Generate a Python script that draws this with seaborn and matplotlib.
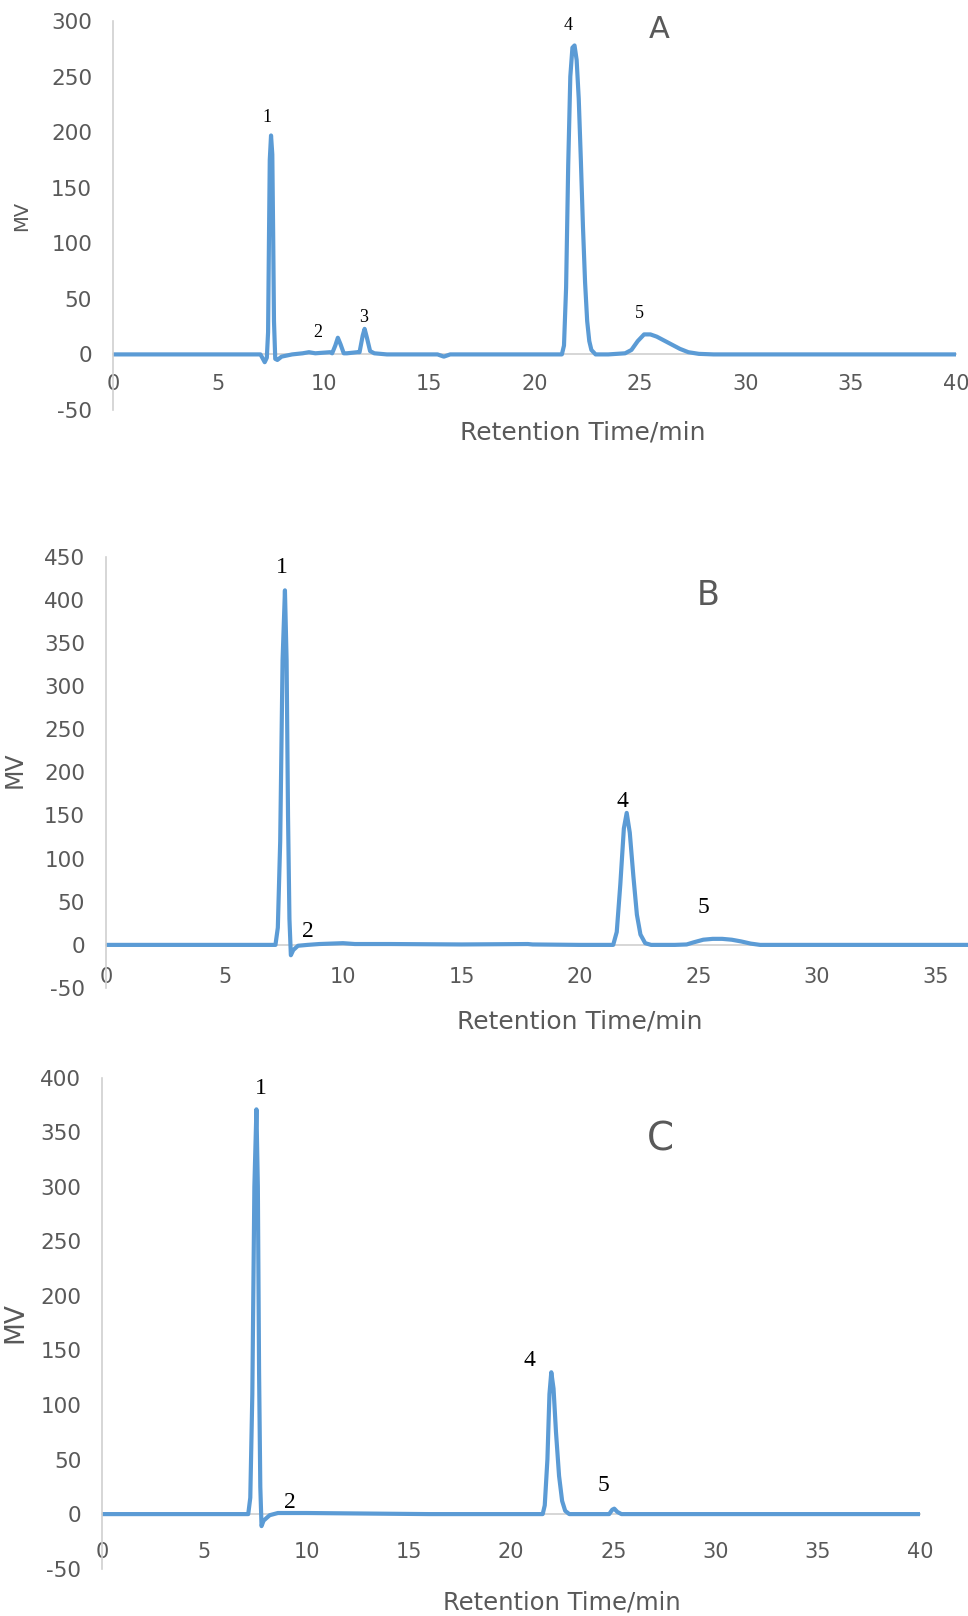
import matplotlib
matplotlib.use("Agg")
import matplotlib.pyplot as plt
import seaborn as sns

# ---------------------------------------------------------
# DADOS (lidos do cromatograma)
# ---------------------------------------------------------
# Painel A
time_a = [0, 7.0, 7.2, 7.3, 7.36, 7.40, 7.44, 7.5, 7.56, 7.6, 7.64, 7.7, 7.8, 8.0, 8.5,
          9.0, 9.3, 9.6, 10.3, 10.4, 10.55, 10.67, 10.8, 10.95, 11.1, 11.6, 11.7, 11.85,
          11.94, 12.05, 12.2, 12.4, 13.0, 15.4, 15.7, 16.0,
          21.3, 21.4, 21.5, 21.6, 21.7, 21.8, 21.9, 22.0, 22.1, 22.2, 22.3, 22.4, 22.5,
          22.6, 22.7, 22.9, 23.5, 24.3, 24.6, 24.9, 25.2, 25.5, 25.8, 26.1, 26.5, 26.9,
          27.3, 27.8, 28.5, 40]
mv_a = [0, 0, -7, -3, 20, 100, 175, 197, 180, 110, 30, -4, -5, -2, 0,
        1, 2, 1, 2, 1, 8, 15, 9, 1, 1, 2, 2, 17,
        23, 15, 3, 1, 0, 0, -2, 0,
        0, 8, 60, 170, 250, 276, 278, 265, 230, 175, 115, 65, 30,
        12, 4, 0, 0, 1, 4, 12, 18, 18, 16, 13, 9, 5,
        2, 0.5, 0, 0]
peaks_a = ["1", "2", "3", "4", "5"]
peaks_a_x = [7.3, 9.7, 11.9, 21.6, 25.0]
peaks_a_y = [213, 20, 33, 296, 37]

# Painel B
time_b = [0, 7.0, 7.15, 7.25, 7.35, 7.45, 7.55, 7.62, 7.68, 7.74, 7.8, 7.9, 8.1, 8.5,
          9.0, 10.0, 10.5, 12.0, 15.0, 17.8, 18.0, 20.0,
          21.4, 21.55, 21.7, 21.85, 21.97, 22.1, 22.25, 22.4, 22.55, 22.75, 23.0, 24.0,
          24.5, 24.8, 25.2, 25.6, 26.0, 26.4, 26.8, 27.2, 27.6, 36.4]
mv_b = [0, 0, 0, 20, 120, 330, 411, 330, 150, 30, -12, -6, -1, 0,
        1, 2, 1, 1, 0.5, 1, 0.5, 0,
        0, 15, 70, 135, 153, 130, 80, 35, 12, 2, 0, 0,
        0.5, 3, 6, 7, 7, 6, 4, 1.5, 0, 0]
peaks_b = ["1", "2", "4", "5"]
peaks_b_x = [7.4, 8.5, 21.8, 25.2]
peaks_b_y = [437, 15, 166, 43]

# Painel C
time_c = [0, 7.0, 7.15, 7.25, 7.35, 7.45, 7.55, 7.62, 7.68, 7.74, 7.8, 7.9, 8.2, 8.6,
          10.0, 16.0,
          21.55, 21.65, 21.78, 21.88, 21.97, 22.08, 22.2, 22.35, 22.5, 22.65, 22.85,
          24.8, 24.95, 25.05, 25.2, 25.4, 40]
mv_c = [0, 0, 0, 15, 110, 300, 371, 300, 130, 25, -11, -6, -1, 1,
        1, 0,
        0, 8, 50, 110, 130, 115, 75, 35, 12, 3, 0,
        0, 4, 5, 2, 0, 0]
peaks_c = ["1", "2", "4", "5"]
peaks_c_x = [7.76, 9.2, 20.9, 24.5]
peaks_c_y = [390, 11, 141, 26]

# ---------------------------------------------------------
# ESTILO
# ---------------------------------------------------------
sns.set_theme(style="white")
plt.rcParams['font.family'] = ['DejaVu Sans']
plt.rcParams['axes.unicode_minus'] = False

azul = "#5B9BD5"
cinza_txt = "#595959"
cinza_eixo = "#D0D0D0"

fig = plt.figure(figsize=(9.68, 16.16), dpi=100)
fig.patch.set_facecolor("white")

paineis = [
    dict(rect=[0.1167, 0.7463, 0.8709, 0.2407], t=time_a, v=mv_a,
         nomes=peaks_a, px=peaks_a_x, py=peaks_a_y, pfs=13,
         xlim=40, xstep=5, ymax=300, letra="A", lx=25.9, ly=292, lfs=22,
         pad=14, xl=(0.5575, -0.057), yl=(-0.108, 0.50), yfs=14, xfs=18),
    dict(rect=[0.1095, 0.3886, 0.8905, 0.2669], t=time_b, v=mv_b,
         nomes=peaks_b, px=peaks_b_x, py=peaks_b_y, pfs=17,
         xlim=36.37, xstep=5, ymax=450, letra="B", lx=25.4, ly=405, lfs=24,
         pad=16, xl=(0.55, -0.078), yl=(-0.1056, 0.505), yfs=17, xfs=18),
    dict(rect=[0.1054, 0.0293, 0.8450, 0.3038], t=time_c, v=mv_c,
         nomes=peaks_c, px=peaks_c_x, py=peaks_c_y, pfs=17,
         xlim=40, xstep=5, ymax=400, letra="C", lx=27.3, ly=343, lfs=28,
         pad=20, xl=(0.562, -0.068), yl=(-0.106, 0.502), yfs=19, xfs=17.5),
]

for p in paineis:
    ax = fig.add_axes(p["rect"])
    ax.set_facecolor("white")

    sns.lineplot(x=p["t"], y=p["v"], ax=ax, color=azul, linewidth=3,
                 estimator=None, sort=False)

    ax.set_xlim(0, p["xlim"])
    ax.set_ylim(-50, p["ymax"])
    ax.set_xticks(list(range(0, int(p["xlim"]) + 1, p["xstep"])))
    ax.set_yticks(list(range(-50, p["ymax"] + 1, 50)))

    # eixo horizontal cruzando em zero (estilo Excel)
    for lado in ["top", "right"]:
        ax.spines[lado].set_visible(False)
    ax.spines["bottom"].set_position(("data", 0))
    ax.spines["bottom"].set_color(cinza_eixo)
    ax.spines["bottom"].set_linewidth(1.2)
    ax.spines["bottom"].set_zorder(0)
    ax.spines["left"].set_color(cinza_eixo)
    ax.spines["left"].set_linewidth(1.2)

    ax.tick_params(axis="x", length=0, pad=p["pad"], labelsize=15, labelcolor=cinza_txt)
    ax.tick_params(axis="y", length=0, pad=15, labelsize=15.5, labelcolor=cinza_txt)
    ax.grid(False)

    ax.set_xlabel("Retention Time/min", fontsize=p["xfs"], color=cinza_txt, va="center")
    ax.xaxis.set_label_coords(*p["xl"])
    ax.set_ylabel("MV", fontsize=p["yfs"], color=cinza_txt, va="center")
    ax.yaxis.set_label_coords(*p["yl"])

    # numeração dos picos
    for nome, x, y in zip(p["nomes"], p["px"], p["py"]):
        ax.text(x, y, nome, ha="center", va="center", fontsize=p["pfs"],
                family="Liberation Serif", color="black")

    ax.text(p["lx"], p["ly"], p["letra"], ha="center", va="center",
            fontsize=p["lfs"], color=cinza_txt)

fig.savefig("out.png", dpi=100, facecolor="white")
